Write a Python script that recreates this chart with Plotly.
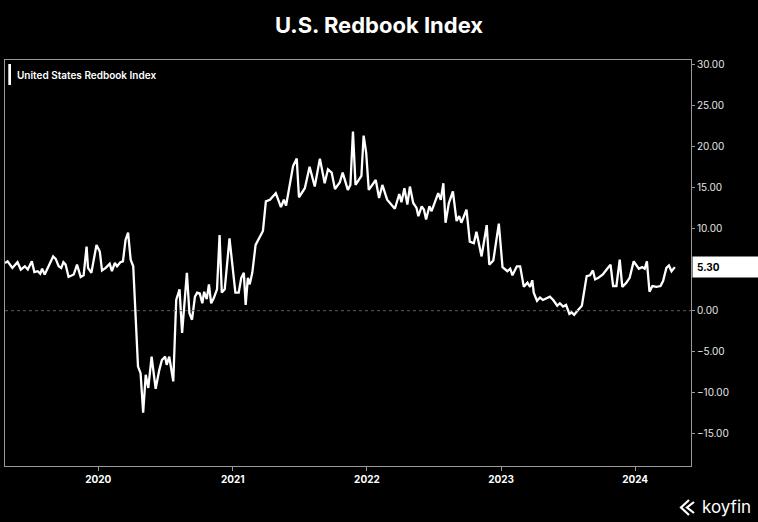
import plotly.graph_objects as go

# weekly Redbook readings (y/y %)
dates = [
    "2019-04-22", "2019-04-29", "2019-05-12", "2019-05-26", "2019-06-04", "2019-06-15",
    "2019-06-23", "2019-07-04", "2019-07-11", "2019-07-20", "2019-07-27", "2019-08-01",
    "2019-08-08", "2019-08-31", "2019-09-07", "2019-09-15", "2019-09-22", "2019-09-28",
    "2019-10-04", "2019-10-12", "2019-10-26", "2019-11-04", "2019-11-14", "2019-11-22",
    "2019-11-30", "2019-12-04", "2019-12-13", "2019-12-27", "2020-01-05", "2020-01-11",
    "2020-01-21", "2020-02-01", "2020-02-07", "2020-02-15", "2020-02-21", "2020-03-01",
    "2020-03-08", "2020-03-15", "2020-03-22", "2020-03-29", "2020-04-05", "2020-04-18",
    "2020-04-25", "2020-05-02", "2020-05-09", "2020-05-16", "2020-05-25", "2020-06-05",
    "2020-06-15", "2020-06-22", "2020-07-01", "2020-07-05", "2020-07-12", "2020-07-23",
    "2020-07-31", "2020-08-09", "2020-08-16", "2020-08-29", "2020-09-05", "2020-09-12",
    "2020-09-20", "2020-09-26", "2020-10-03", "2020-10-10", "2020-10-15", "2020-10-22",
    "2020-10-28", "2020-11-03", "2020-11-10", "2020-11-19", "2020-11-26", "2020-12-02",
    "2020-12-10", "2020-12-23", "2021-01-08", "2021-01-17", "2021-01-24", "2021-01-31",
    "2021-02-05", "2021-02-11", "2021-02-16", "2021-02-23", "2021-03-04", "2021-03-13",
    "2021-03-24", "2021-04-01", "2021-04-12", "2021-04-28", "2021-05-12", "2021-05-20",
    "2021-05-26", "2021-06-14", "2021-06-24", "2021-06-30", "2021-07-16", "2021-07-29",
    "2021-08-12", "2021-08-26", "2021-09-08", "2021-09-17", "2021-09-27", "2021-10-06",
    "2021-10-19", "2021-10-27", "2021-11-10", "2021-11-17", "2021-11-24", "2021-12-01",
    "2021-12-17", "2021-12-23", "2021-12-30", "2022-01-06", "2022-01-25", "2022-02-03",
    "2022-02-12", "2022-02-25", "2022-03-18", "2022-03-30", "2022-04-05", "2022-04-13",
    "2022-04-21", "2022-04-28", "2022-05-07", "2022-05-16", "2022-05-21", "2022-05-30",
    "2022-06-05", "2022-06-11", "2022-06-20", "2022-06-26", "2022-07-05", "2022-07-14",
    "2022-07-21", "2022-07-28", "2022-08-03", "2022-08-12", "2022-08-23", "2022-09-02",
    "2022-09-09", "2022-09-15", "2022-09-29", "2022-10-08", "2022-10-19", "2022-10-26",
    "2022-11-09", "2022-11-23", "2022-11-30", "2022-12-11", "2022-12-26", "2023-01-05",
    "2023-01-18", "2023-01-26", "2023-02-01", "2023-02-13", "2023-02-22", "2023-03-04",
    "2023-03-14", "2023-03-21", "2023-03-27", "2023-03-31", "2023-04-09", "2023-04-17",
    "2023-04-25", "2023-05-05", "2023-05-14", "2023-05-23", "2023-06-03", "2023-06-10",
    "2023-06-19", "2023-06-27", "2023-07-06", "2023-07-12", "2023-07-19", "2023-07-28",
    "2023-08-09", "2023-08-22", "2023-08-31", "2023-09-08", "2023-09-14", "2023-09-23",
    "2023-10-05", "2023-10-17", "2023-10-26", "2023-11-02", "2023-11-11", "2023-11-20",
    "2023-11-27", "2023-12-08", "2023-12-17", "2023-12-28", "2024-01-04", "2024-01-11",
    "2024-01-20", "2024-01-27", "2024-02-02", "2024-02-09", "2024-02-17", "2024-02-28",
    "2024-03-10", "2024-03-17", "2024-03-26", "2024-04-02", "2024-04-09", "2024-04-18",
]
redbook = [
    5.8, 6.0, 5.2, 5.9, 5.0, 5.4,
    5.0, 6.0, 4.7, 4.8, 4.5, 5.1,
    4.4, 6.6, 6.3, 5.4, 5.2, 5.9,
    5.6, 4.1, 4.4, 5.6, 4.1, 4.3,
    7.8, 5.2, 4.6, 8.0, 7.2, 4.9,
    5.2, 5.7, 4.8, 5.8, 5.4, 5.9,
    6.0, 8.6, 9.5, 6.2, 5.4, -6.8,
    -7.6, -12.4, -7.8, -9.4, -5.6, -9.5,
    -7.2, -6.0, -5.6, -6.6, -5.6, -8.6,
    1.3, 2.6, -2.7, 4.6, -0.3, -1.1,
    1.7, 2.2, 2.1, 0.9, 2.3, 1.4,
    3.2, 0.9, 1.5, 2.6, 9.2, 2.2,
    2.6, 8.8, 2.2, 2.2, 4.0, 4.6,
    0.7, 4.0, 3.2, 4.6, 8.0, 8.8,
    9.7, 13.3, 13.5, 14.3, 12.6, 13.5,
    12.8, 17.6, 18.5, 13.8, 14.9, 17.5,
    15.1, 18.5, 15.5, 17.2, 16.8, 14.8,
    15.6, 16.8, 14.7, 15.3, 21.8, 15.3,
    16.4, 21.3, 19.2, 14.7, 15.9, 13.7,
    15.3, 13.5, 12.4, 14.2, 13.2, 14.9,
    12.9, 15.1, 13.1, 12.5, 11.5, 12.7,
    12.3, 11.1, 12.7, 12.1, 13.2, 14.3,
    13.5, 15.5, 10.7, 13.1, 14.5, 10.9,
    11.5, 10.7, 12.3, 8.4, 8.2, 9.6,
    6.6, 10.4, 5.6, 6.1, 10.6, 5.3,
    4.8, 5.1, 4.3, 5.4, 5.4, 2.9,
    3.4, 2.9, 3.7, 2.2, 1.2, 1.6,
    1.3, 1.5, 1.7, 1.3, 0.6, 0.9,
    0.5, 0.7, -0.4, -0.2, -0.5, 0.0,
    0.6, 4.2, 4.3, 4.9, 3.8, 4.0,
    4.4, 5.1, 5.6, 3.0, 3.0, 6.2,
    2.9, 3.4, 4.0, 6.0, 5.6, 5.1,
    5.3, 5.1, 6.0, 2.3, 3.0, 2.9,
    3.0, 3.6, 5.2, 5.5, 4.8, 5.3,
]
last_value = 5.30
# 5.00 sits under the last-value tag, so it is left out
y_ticks = [-15, -10, -5, 0, 10, 15, 20, 25, 30]

W, H = 758, 522
M = dict(l=5, r=67, t=60, b=56)
axis_grey = "#9a9a9a"


def px_to_paper(px, py):
    """pixel position in the page -> paper coords of the plot area"""
    pw = W - M["l"] - M["r"]
    ph = H - M["t"] - M["b"]
    return (px - M["l"]) / pw, (H - M["b"] - py) / ph


fig = go.Figure()
fig.add_trace(go.Scatter(
    x=dates, y=redbook, mode="lines",
    line=dict(color="#ffffff", width=2.3),
    showlegend=False, hoverinfo="skip",
))

fig.update_layout(
    width=W, height=H, margin=M,
    paper_bgcolor="#000000", plot_bgcolor="#000000",
    font=dict(family="Inter, Roboto, sans-serif", color="#ffffff"),
    title=dict(
        text="U.S. Redbook Index", x=0.5, xanchor="center",
        y=1 - 25 / H, yanchor="middle", yref="container",
        font=dict(size=22, weight=700, color="#ffffff"),
    ),
    showlegend=False,
)

fig.update_xaxes(
    type="date", range=["2019-04-22", "2024-06-01"],
    showgrid=False, zeroline=False,
    showline=True, linecolor=axis_grey, linewidth=1, mirror=True,
    ticks="outside", ticklen=4, tickcolor=axis_grey,
    dtick="M12", tick0="2020-01-01", tickformat="%Y",
    tickfont=dict(size=10, weight=700, color="#ffffff"),
)
fig.update_yaxes(
    side="right", range=[-18.9, 30.5],
    showgrid=False, zeroline=False,
    showline=True, linecolor=axis_grey, linewidth=1, mirror=True,
    ticks="outside", ticklen=3, tickcolor=axis_grey,
    tickvals=y_ticks, tickformat=".2f",
    tickfont=dict(size=10, color="#e6e6e6"),
)

# dotted zero line
fig.add_shape(type="line", xref="paper", x0=0, x1=1, yref="y", y0=0, y1=0,
              line=dict(color="#5e5e5e", width=1, dash="dot"))

# legend marker + label
bx0, by0 = px_to_paper(8.3, 85)
bx1, by1 = px_to_paper(11, 64)
fig.add_shape(type="rect", xref="paper", yref="paper", x0=bx0, x1=bx1, y0=by0, y1=by1,
              fillcolor="#ffffff", line=dict(width=0))
lx, ly = px_to_paper(15, 75)
fig.add_annotation(text="United States Redbook Index", xref="paper", yref="paper",
                   x=lx, y=ly, xanchor="left", yanchor="middle", showarrow=False,
                   font=dict(size=10, weight=600, color="#ffffff"))

# last value tag on the right axis
fig.add_annotation(text="5.30", xref="paper", yref="y", x=1, y=last_value,
                   xanchor="left", yanchor="middle", showarrow=False, xshift=1,
                   width=58, align="left", bgcolor="#ffffff", borderpad=4,
                   font=dict(size=10, weight=700, color="#000000"))

# koyfin mark
kx, ky = px_to_paper(700, 507)
fig.add_annotation(text="koyfin", xref="paper", yref="paper", x=kx, y=ky,
                   xanchor="left", yanchor="middle", showarrow=False,
                   font=dict(size=17, color="#ffffff"))
for pts in ([(689, 500), (681, 507.5), (689, 515)], [(694, 502), (687, 507.5), (694, 513)]):
    path = ""
    for i, (px, py) in enumerate(pts):
        qx, qy = px_to_paper(px, py)
        path += ("M" if i == 0 else "L") + f"{qx:.5f},{qy:.5f} "
    fig.add_shape(type="path", xref="paper", yref="paper", path=path,
                  line=dict(color="#ffffff", width=2.2))

# drop the default page margin so the figure fills the window
fig.write_html("out.html", config={"displayModeBar": False},
               post_script="document.body.style.margin='0';")
